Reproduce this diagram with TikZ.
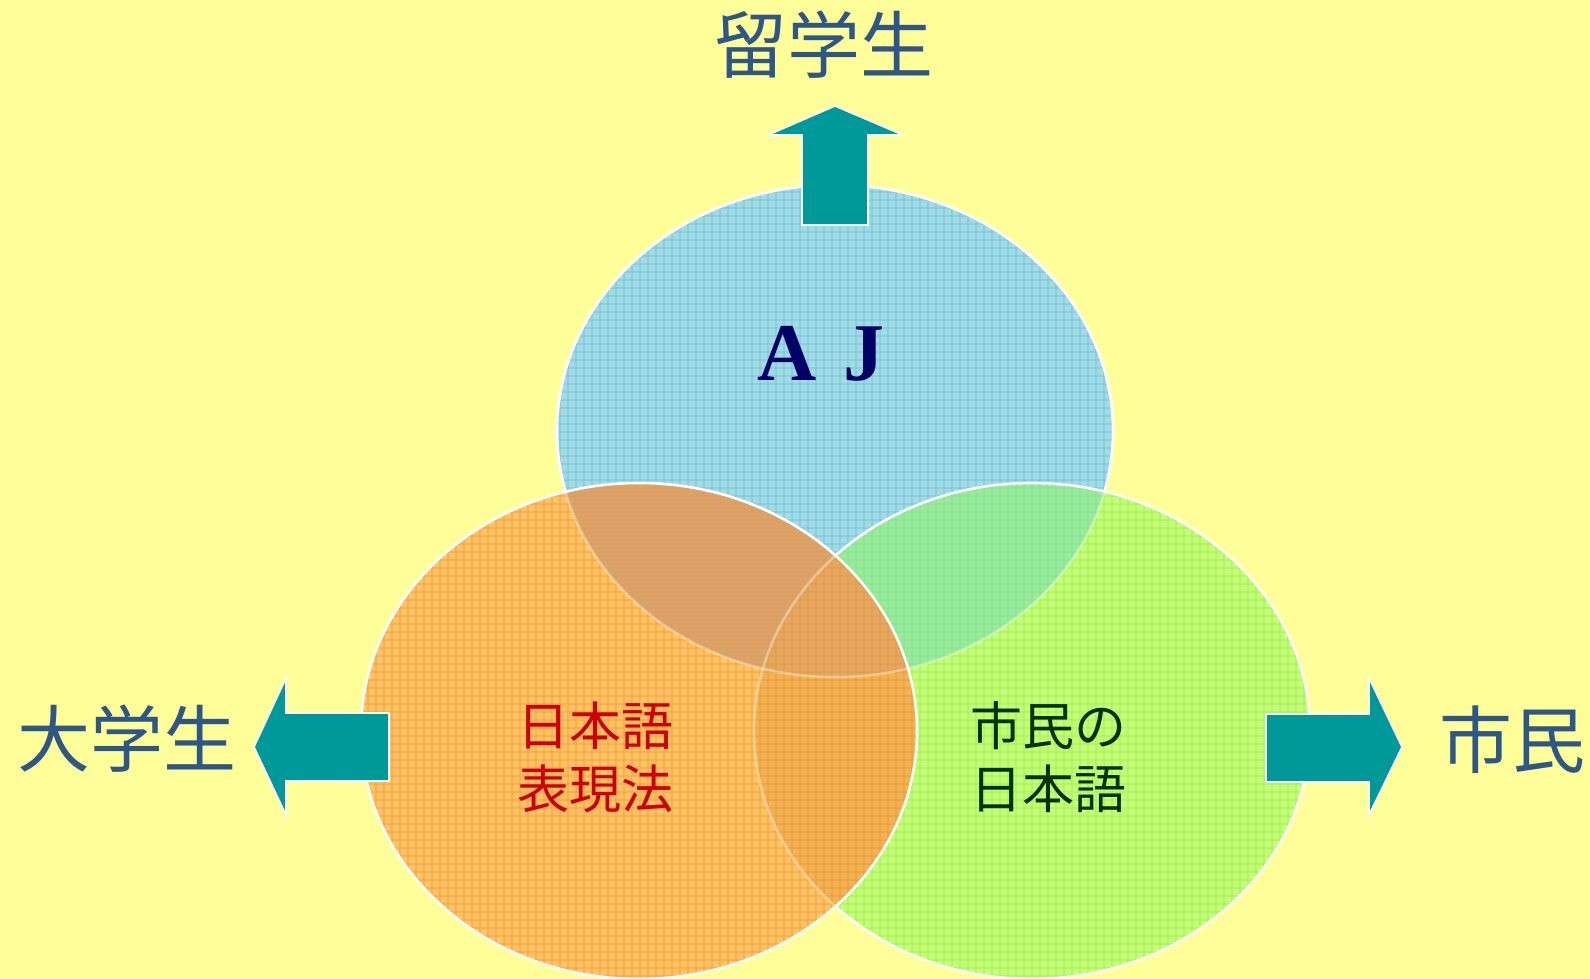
\documentclass[tikz,border=0pt]{standalone}
\usepackage{fontspec}
\newfontfamily\jp{Noto Sans CJK JP}
\newfontfamily\tms{Liberation Serif}
\definecolor{bg}{HTML}{FFFF99}
\definecolor{lbl}{HTML}{2E5687}
\definecolor{teal}{HTML}{009999}
\definecolor{ajc}{HTML}{000066}
\definecolor{redt}{HTML}{CC0000}
\definecolor{grnt}{HTML}{003300}
\definecolor{bF}{HTML}{A4DCDC}\definecolor{bL}{HTML}{74C6F0}
\definecolor{gF}{HTML}{C5FF73}\definecolor{gL}{HTML}{A5F061}
\definecolor{oF}{HTML}{FFC466}\definecolor{oL}{HTML}{FFA03C}
\definecolor{bgF}{HTML}{98EE8C}\definecolor{bgL}{HTML}{8ADCB4}
\definecolor{obF}{HTML}{D6A470}\definecolor{obL}{HTML}{EC9A48}
\definecolor{ogF}{HTML}{F0B456}\definecolor{ogL}{HTML}{F59A35}
\definecolor{obgF}{HTML}{E0A862}\definecolor{obgL}{HTML}{EE9840}
\newcommand\mygrid[5]{%
  \foreach \i in {#1,...,#2} \draw[#5] ({8*\i},{8*#3}) -- ({8*\i},{8*#4});
  \foreach \j in {#3,...,#4} \draw[#5] ({8*#1},{8*\j}) -- ({8*#2},{8*\j});}
\tikzset{
  blueE/.style={insert path={(835,431) ellipse [x radius=278, y radius=246]}},
  greenE/.style={insert path={(1032,731) ellipse [x radius=278, y radius=248]}},
  orangeE/.style={insert path={(639,731) ellipse [x radius=278, y radius=248]}},
  rim/.style={draw=white, line width=1.3pt},
  faintrim/.style={draw=white, draw opacity=0.35, line width=1.3pt},
  gl/.style={line width=0.6pt, draw opacity=0.6},
  blockarrow/.style={fill=teal, draw=white, line width=0.8pt, line join=miter},
  side/.style={font=\jp\fontsize{36.5}{40}\selectfont, text=lbl, inner sep=0pt},
  inner/.style={font=\jp\fontsize{26}{31.5}\selectfont, align=center, inner sep=0pt}
}
\begin{document}
\begin{tikzpicture}[x=0.5pt,y=-0.5pt]
\fill[bg] (0,0) rectangle (1590,979);
\useasboundingbox (0,0) rectangle (1590,979);
% blue circle
\fill[bF, blueE];
\begin{scope}\clip[blueE]; \mygrid{69}{140}{23}{85}{bL,gl} \end{scope}
\path[rim, blueE];
% green circle
\fill[gF, greenE];
\begin{scope}\clip[greenE]; \mygrid{94}{164}{60}{123}{gL,gl} \end{scope}
\begin{scope}\clip[greenE]; \clip[blueE];
  \fill[bgF] (740,470) rectangle (1130,690);
  \mygrid{94}{140}{60}{85}{bgL,gl}
\end{scope}
\begin{scope}\clip[greenE]; \path[faintrim, blueE]; \end{scope}
\path[rim, greenE];
% orange circle
\fill[oF, orangeE];
\begin{scope}\clip[orangeE]; \mygrid{45}{115}{60}{123}{oL,gl} \end{scope}
\begin{scope}\clip[orangeE]; \clip[blueE];
  \fill[obF] (540,470) rectangle (930,690);
  \mygrid{69}{115}{60}{85}{obL,gl}
\end{scope}
\begin{scope}\clip[orangeE]; \clip[greenE];
  \fill[ogF] (740,470) rectangle (930,990);
  \mygrid{94}{115}{60}{123}{ogL,gl}
\end{scope}
\begin{scope}\clip[orangeE]; \clip[greenE]; \clip[blueE];
  \fill[obgF] (740,470) rectangle (930,690);
  \mygrid{94}{115}{60}{85}{obgL,gl}
\end{scope}
\begin{scope}\clip[orangeE]; \path[faintrim, blueE]; \path[faintrim, greenE]; \end{scope}
\path[rim, orangeE];
% arrows
\coordinate (upT) at (835,106);
\coordinate (lfT) at (254,747);
\coordinate (rtT) at (1402,747);
\filldraw[blockarrow] (802,225) -- (802,135) -- (768,135) -- (upT) -- (903,135) -- (868,135) -- (868,225) -- cycle;
\filldraw[blockarrow] (389,713) -- (286,713) -- (286,678) -- (lfT) -- (286,815) -- (286,781) -- (389,781) -- cycle;
\filldraw[blockarrow] (1266,714) -- (1369,714) -- (1369,678) -- (rtT) -- (1369,815) -- (1369,782) -- (1266,782) -- cycle;
% labels
\node[side] (ryu) at (824,45) {留学生};
\node[side] (dai) at (127,739) {大学生};
\node[side] (shi) at (1512,740) {市民};
\node[font=\tms\bfseries\fontsize{41}{41}\selectfont, text=ajc, inner sep=0pt] (aj) at (821,354) {A\hspace{13pt}J};
\node[inner, text=redt] (hyo) at (595,757) {日本語\\表現法};
\node[inner, text=grnt] (shimin) at (1048,757) {市民の\\日本語};
\end{tikzpicture}
\end{document}
